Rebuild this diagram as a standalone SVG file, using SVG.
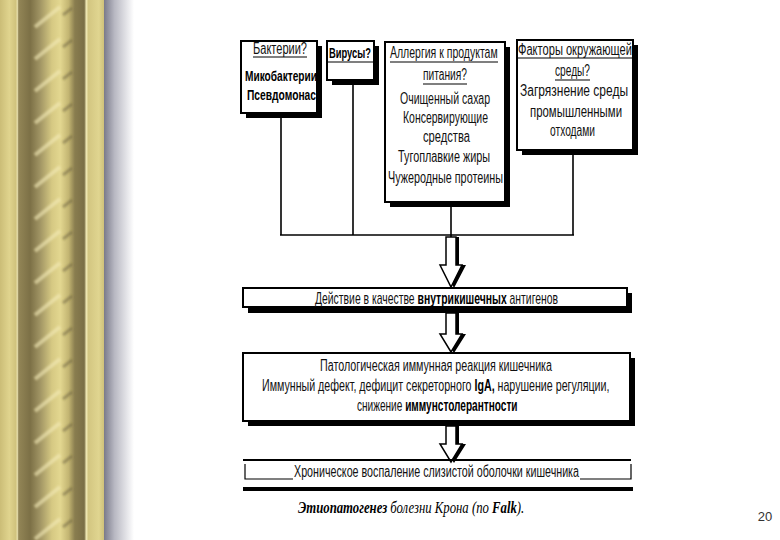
<svg xmlns="http://www.w3.org/2000/svg" width="780" height="540" viewBox="0 0 780 540">
<defs>
<linearGradient id="gold" gradientUnits="userSpaceOnUse" x1="0" y1="0" x2="104" y2="0">
<stop offset="0" stop-color="#cbbd77"/>
<stop offset="0.09" stop-color="#e0d48e"/>
<stop offset="0.155" stop-color="#cfc17c"/>
<stop offset="0.165" stop-color="#f2eab8"/>
<stop offset="0.18" stop-color="#928556"/>
<stop offset="0.29" stop-color="#7c7046"/>
<stop offset="0.38" stop-color="#9e9262"/>
<stop offset="0.50" stop-color="#d6c983"/>
<stop offset="0.58" stop-color="#e3d790"/>
<stop offset="0.66" stop-color="#c3b572"/>
<stop offset="0.72" stop-color="#897d4f"/>
<stop offset="0.81" stop-color="#7a6e45"/>
<stop offset="0.83" stop-color="#f0e8b4"/>
<stop offset="0.85" stop-color="#d3c681"/>
<stop offset="0.95" stop-color="#e0d590"/>
<stop offset="1" stop-color="#cfc17a"/>
</linearGradient>
<linearGradient id="shade" x1="0" y1="0" x2="1" y2="0">
<stop offset="0" stop-color="#7a7a8a"/>
<stop offset="0.35" stop-color="#b8b8c2"/>
<stop offset="1" stop-color="#ffffff"/>
</linearGradient>
<filter id="soft" x="-20%" y="-20%" width="140%" height="140%">
<feGaussianBlur stdDeviation="1.2"/>
</filter>
<pattern id="rope" patternUnits="userSpaceOnUse" width="104" height="32">
<g filter="url(#soft)">
<line x1="35" y1="27" x2="60" y2="7" stroke="#f4ecb8" stroke-width="4" opacity="0.6"/>
<line x1="63" y1="15" x2="72" y2="8" stroke="#5e5535" stroke-width="3" opacity="0.45"/>
</g>
</pattern>
<style>
.box{fill:#fff;stroke:#000;stroke-width:2}
.sh{fill:#000}
.t{font-family:"Liberation Sans","Noto Sans",sans-serif;font-size:16px;fill:#111}
.b{font-family:"Liberation Sans","Noto Sans",sans-serif;font-size:15px;font-weight:bold;fill:#000}
.bt{font-weight:bold;fill:#000}
.ul{stroke:#000;stroke-width:1.2}
.con{stroke:#000;stroke-width:1.6;fill:none}
.arr{fill:#fff;stroke:#000;stroke-width:1.5}
.cap{font-family:"Liberation Serif","DejaVu Serif",serif;font-style:italic;font-size:17px;fill:#000}
</style>
</defs>
<rect width="780" height="540" fill="#fff"/>
<g id="border">
<rect x="0" y="0" width="104" height="540" fill="url(#gold)"/>
<rect x="32" y="0" width="44" height="540" fill="url(#rope)"/>
<rect x="104" y="0" width="30" height="540" fill="url(#shade)"/>
</g>
<g id="connectors">
<line class="con" x1="281" y1="113" x2="281" y2="235"/>
<line class="con" x1="353" y1="80" x2="353" y2="235"/>
<line class="con" x1="451" y1="202" x2="451" y2="237"/>
<line class="con" x1="573" y1="150" x2="573" y2="235"/>
<line class="con" x1="280" y1="235" x2="574" y2="235"/>
<polygon class="sh" points="449,237 449,265 442,265 454,288 466,265 459,265 459,237"/>
<polygon class="arr" points="446,237 446,265 440,265 451,287 462,265 456,265 456,237"/>
<polygon class="sh" points="449,313 449,334 442,334 454,353 466,334 459,334 459,313"/>
<polygon class="arr" points="446,313 446,334 440,334 451,352 462,334 456,334 456,313"/>
<polygon class="sh" points="449,426 449,444 442,444 454,463 466,444 459,444 459,426"/>
<polygon class="arr" points="446,426 446,444 440,444 451,462 462,444 456,444 456,426"/>
</g>
<g id="n-bacteria">
<rect class="sh" x="246" y="46" width="76" height="72"/>
<rect class="box" x="241" y="41" width="76" height="72"/>
<text class="t" x="253" y="54" textLength="54" lengthAdjust="spacingAndGlyphs">Бактерии?</text>
<line class="ul" x1="253" y1="57" x2="307" y2="57"/>
<text class="b" x="245" y="81" textLength="72" lengthAdjust="spacingAndGlyphs">Микобактерии</text>
<text class="b" x="247" y="100" textLength="69" lengthAdjust="spacingAndGlyphs">Псевдомонас</text>
</g>
<g id="n-virus">
<rect class="sh" x="332" y="46" width="47" height="39"/>
<rect class="box" x="327" y="41" width="47" height="39"/>
<text class="b" x="329" y="58" textLength="42" lengthAdjust="spacingAndGlyphs">Вирусы?</text>
<line class="ul" x1="328" y1="62" x2="373" y2="62"/>
</g>
<g id="n-allergy">
<rect class="sh" x="390" y="47" width="120" height="160"/>
<rect class="box" x="385" y="42" width="120" height="160"/>
<text class="t" transform="translate(390,58) scale(0.657,1)" x="0" y="0">Аллергия к продуктам</text>
<line class="ul" x1="390" y1="62" x2="498" y2="62"/>
<text class="t" x="423" y="80" textLength="44" lengthAdjust="spacingAndGlyphs">питания?</text>
<line class="ul" x1="423" y1="84" x2="467" y2="84"/>
<text class="t" x="400" y="104" textLength="90" lengthAdjust="spacingAndGlyphs">Очищенный сахар</text>
<text class="t" x="403" y="123" textLength="85" lengthAdjust="spacingAndGlyphs">Консервирующие</text>
<text class="t" x="423" y="142" textLength="47" lengthAdjust="spacingAndGlyphs">средства</text>
<text class="t" x="398" y="162" textLength="92" lengthAdjust="spacingAndGlyphs">Тугоплавкие жиры</text>
<text class="t" x="388" y="183" textLength="115" lengthAdjust="spacingAndGlyphs">Чужеродные протеины</text>
</g>
<g id="n-environment">
<rect class="sh" x="522" y="45" width="116" height="110"/>
<rect class="box" x="517" y="40" width="116" height="110"/>
<text class="t" x="518" y="55" textLength="114" lengthAdjust="spacingAndGlyphs">Факторы окружающей</text>
<line class="ul" x1="518" y1="58" x2="632" y2="58"/>
<text class="t" x="555" y="76" textLength="35" lengthAdjust="spacingAndGlyphs">среды?</text>
<line class="ul" x1="555" y1="80" x2="590" y2="80"/>
<text class="t" x="520" y="96" textLength="108" lengthAdjust="spacingAndGlyphs">Загрязнение среды</text>
<text class="t" x="530" y="117" textLength="92" lengthAdjust="spacingAndGlyphs">промышленными</text>
<text class="t" x="550" y="136" textLength="45" lengthAdjust="spacingAndGlyphs">отходами</text>
</g>
<g id="n-antigens">
<rect class="sh" x="248" y="293" width="384" height="20"/>
<rect class="box" x="243" y="288" width="384" height="19"/>
<text class="t" transform="translate(315,304) scale(0.65,1)" x="0" y="0">Действие в качестве <tspan class="bt">внутрикишечных</tspan> антигенов</text>
</g>
<g id="n-immune">
<rect class="sh" x="248" y="358" width="387" height="68"/>
<rect class="box" x="243" y="353" width="387" height="68"/>
<text class="t" x="320" y="371" textLength="232" lengthAdjust="spacingAndGlyphs">Патологическая иммунная реакция кишечника</text>
<text class="t" transform="translate(262,391) scale(0.667,1)" x="0" y="0">Иммунный дефект, дефицит секреторного <tspan class="bt">IgA,</tspan> нарушение регуляции,</text>
<text class="t" transform="translate(357,411) scale(0.63,1)" x="0" y="0">снижение <tspan class="bt">иммунстолерантности</tspan></text>
</g>
<g id="n-inflammation">
<line x1="243" y1="460" x2="631" y2="460" stroke="#000" stroke-width="2"/>
<polyline points="245,464 245,479 293,479" fill="none" stroke="#000" stroke-width="1.2"/>
<polyline points="580,479 631,479 631,464" fill="none" stroke="#000" stroke-width="1.2"/>
<line x1="243" y1="489" x2="633" y2="489" stroke="#000" stroke-width="4"/>
<text class="t" x="294" y="477" textLength="285" lengthAdjust="spacingAndGlyphs">Хроническое воспаление слизистой оболочки кишечника</text>
</g>
<g id="caption">
<text class="cap" transform="translate(298,513) scale(0.75,1)" x="0" y="0"><tspan class="bt">Этиопатогенез</tspan> болезни Крона (по <tspan class="bt">Falk</tspan>).</text>
</g>
<text x="765" y="521" text-anchor="middle" font-family="Liberation Sans, sans-serif" font-size="13" fill="#333">20</text>
</svg>
